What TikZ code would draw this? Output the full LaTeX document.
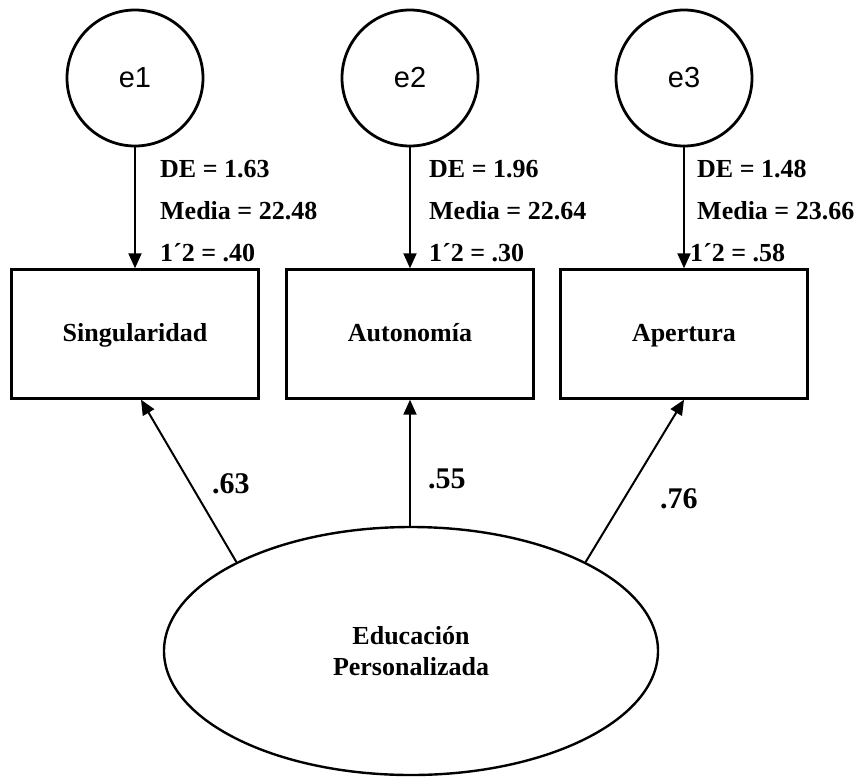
\documentclass[tikz,border=0pt]{standalone}
\usepackage{fontspec}
\setmainfont{Liberation Serif}
\newfontfamily\arialfont{Liberation Sans}
\usetikzlibrary{arrows.meta,shapes.geometric}

\newcommand\statFont [0]{\fontsize{26}{30}\selectfont\bfseries}
\newcommand\loadFont [0]{\fontsize{30}{32}\selectfont\bfseries}

\tikzset{
  every node/.style={inner sep=0pt}
}
\tikzset{err circle/.style={draw,circle,line width=2.8pt,minimum size=136pt,font=\arialfont\fontsize{29}{32}\selectfont}}
\tikzset{obs box/.style={draw,rectangle,line width=2.4pt,minimum width=247pt,minimum height=129pt,text height=19pt,text depth=5pt,font=\statFont}}
\tikzset{lat ellipse/.style={draw,ellipse,line width=2.4pt,minimum width=494pt,minimum height=248pt,align=center,font=\fontsize{26}{31}\selectfont\bfseries}}
\tikzset{path arrow/.style={line width=2pt,-{Triangle[length=15pt,width=13pt]}}}

\begin{document}
\begin{tikzpicture}[x=1pt,y=-1pt]
  \useasboundingbox (0,0) rectangle (862,777);

  \node [err circle]  (e1)   at (135,78)   {e1};
  \node [err circle]  (e2)   at (410,78)   {e2};
  \node [err circle]  (e3)   at (684,78)   {e3};
  \node [obs box]     (sing) at (135,334)  {Singularidad};
  \node [obs box]     (auto) at (410,334)  {Autonomía};
  \node [obs box]     (aper) at (684,334)  {Apertura};
  \node [lat ellipse] (edu)  at (411,651)  {Educación\\Personalizada};

  \draw [path arrow] (e1) -- (sing);
  \draw [path arrow] (e2) -- (auto);
  \draw [path arrow] (e3) -- (aper);
  \draw [path arrow] (edu.153) -- ([xshift=6pt]sing.south);
  \draw [path arrow] (auto.south |- edu.north) -- (auto.south);
  \draw [path arrow] (edu.27) -- (aper.south);

  \node [anchor=base west,font=\statFont] (de1) at (160,177) {DE = 1.63};
  \node [anchor=base west,font=\statFont] (me1) at (160,219) {Media = 22.48};
  \node [anchor=base west,font=\statFont] (ch1) at (160,261) {1´2 = .40};
  \node [anchor=base west,font=\statFont] (de2) at (429,177) {DE = 1.96};
  \node [anchor=base west,font=\statFont] (me2) at (429,219) {Media = 22.64};
  \node [anchor=base west,font=\statFont] (ch2) at (429,261) {1´2 = .30};
  \node [anchor=base west,font=\statFont] (de3) at (697,177) {DE = 1.48};
  \node [anchor=base west,font=\statFont] (me3) at (697,219) {Media = 23.66};
  \node [anchor=base west,font=\statFont] (ch3) at (690,261) {1´2 = .58};

  \node [anchor=base west,font=\loadFont] (l1) at (212,493) {.63};
  \node [anchor=base west,font=\loadFont] (l2) at (428,488) {.55};
  \node [anchor=base west,font=\loadFont] (l3) at (660,508) {.76};

\end{tikzpicture}
\end{document}
